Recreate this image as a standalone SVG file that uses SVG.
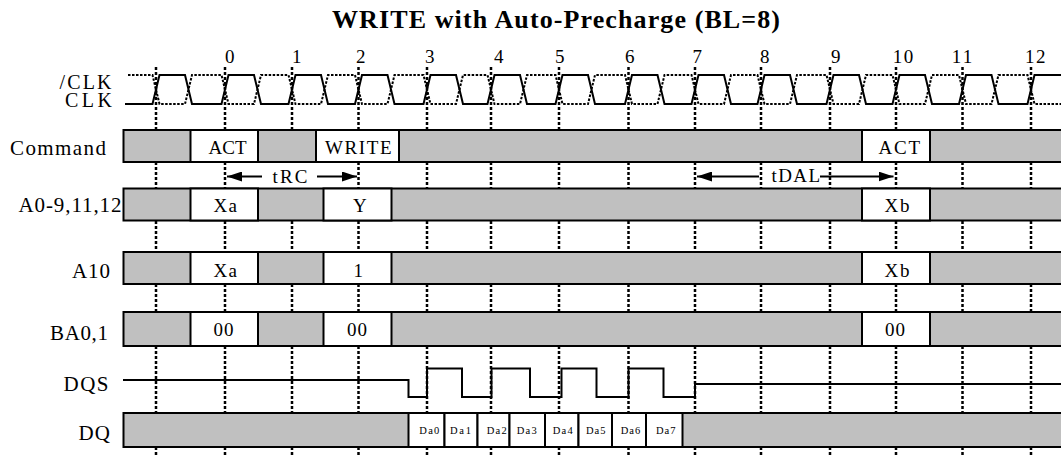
<svg xmlns="http://www.w3.org/2000/svg" width="1061" height="455" viewBox="0 0 1061 455">
<style>
text{font-family:"Liberation Serif","Times New Roman",serif;fill:#000}
.lbl{font-size:21px}
.ck{font-size:20px}
.box{font-size:19px}
.num{font-size:19px}
.da{font-size:10.5px}
.title{font-size:26px;font-weight:bold}
.gray{fill:#c0c0c0;stroke:#000;stroke-width:2}
.white{fill:#fff;stroke:#000;stroke-width:2}
.grid{fill:none;stroke:#000;stroke-width:2.5;stroke-dasharray:3 2}
.clk{fill:none;stroke:#000;stroke-width:2}
.nclk{fill:none;stroke:#000;stroke-width:2;stroke-dasharray:2.5 1.5}
.arr{fill:none;stroke:#000;stroke-width:2}
.wave{fill:none;stroke:#000;stroke-width:2}
</style>
<defs>
<marker id="ah" markerUnits="userSpaceOnUse" markerWidth="16" markerHeight="10" refX="15" refY="5" orient="auto">
<path d="M0,0 L15,5 L0,10 z" fill="#000"/>
</marker>
</defs>
<rect x="0" y="0" width="1061" height="455" fill="#fff"/>
<g id="title">
<text class="title" x="332" y="28" textLength="448" lengthAdjust="spacing">WRITE with Auto-Precharge (BL=8)</text>
</g>
<g id="cycle-numbers">
<text class="num" x="225" y="63">0</text>
<text class="num" x="292" y="63">1</text>
<text class="num" x="356" y="63">2</text>
<text class="num" x="425" y="63">3</text>
<text class="num" x="494" y="63">4</text>
<text class="num" x="555" y="63">5</text>
<text class="num" x="625" y="63">6</text>
<text class="num" x="692.5" y="63">7</text>
<text class="num" x="760" y="63">8</text>
<text class="num" x="831" y="63">9</text>
<text class="num" x="892.7" y="63" textLength="20.5" lengthAdjust="spacing">10</text>
<text class="num" x="951.7" y="63" textLength="20.5" lengthAdjust="spacing">11</text>
<text class="num" x="1025" y="63" textLength="20.5" lengthAdjust="spacing">12</text>
</g>
<g id="connectors">
<path class="grid" d="M156,67V130M225,67V130M292,67V130M358.5,67V130M427,67V130M491,67V130M559,67V130M628.5,67V130M695,67V130M761,67V130M830,67V130M896,67V130M962.5,67V130M1031,67V130"/>
<path class="grid" d="M156,162V188M225,162V188M358.5,162V188M427,162V188M491,162V188M559,162V188M628.5,162V188M695,162V188M761,162V188M830,162V188M896,162V188M962.5,162V188M1031,162V188"/>
<path class="grid" d="M156,221V252M225,221V252M292,221V252M358.5,221V252M427,221V252M491,221V252M559,221V252M628.5,221V252M695,221V252M761,221V252M830,221V252M896,221V252M962.5,221V252M1031,221V252"/>
<path class="grid" d="M156,284V312M225,284V312M292,284V312M358.5,284V312M427,284V312M491,284V312M559,284V312M628.5,284V312M695,284V312M761,284V312M830,284V312M896,284V312M962.5,284V312M1031,284V312"/>
<path class="grid" d="M156,346V413M225,346V413M292,346V413M358.5,346V413M427,346V413M491,346V413M559,346V413M628.5,346V413M695,346V413M761,346V413M830,346V413M896,346V413M962.5,346V413M1031,346V413"/>
<path class="grid" d="M156,447V455M225,447V455M292,447V455M358.5,447V455M427,447V455M491,447V455M559,447V455M628.5,447V455M695,447V455M761,447V455M830,447V455M896,447V455M962.5,447V455M1031,447V455"/>
<g id="tRC">
<line class="arr" x1="262" y1="176.5" x2="227" y2="176.5" marker-end="url(#ah)"/>
<line class="arr" x1="317" y1="176.5" x2="357" y2="176.5" marker-end="url(#ah)"/>
<text class="box" x="272.5" y="182.5" textLength="35" lengthAdjust="spacing">tRC</text>
</g>
<g id="tDAL">
<line class="arr" x1="759" y1="176.5" x2="697" y2="176.5" marker-end="url(#ah)"/>
<line class="arr" x1="820" y1="176.5" x2="893.5" y2="176.5" marker-end="url(#ah)"/>
<text class="box" x="771.5" y="182" textLength="48.5" lengthAdjust="spacing">tDAL</text>
</g>
</g>
<g id="clock">
<text class="ck" x="59.5" y="89" textLength="52" lengthAdjust="spacing">/CLK</text>
<text class="ck" x="65" y="107" textLength="47" lengthAdjust="spacing">CLK</text>
<path class="nclk" d="M128,75 L152.5,75 L159.5,104 L185,104 L192,75 L221.5,75 L228.5,104 L254,104 L261,75 L288.5,75 L295.5,104 L321,104 L328,75 L355,75 L362,104 L387.5,104 L394.5,75 L423.5,75 L430.5,104 L456,104 L463,75 L487.5,75 L494.5,104 L520,104 L527,75 L555.5,75 L562.5,104 L588,104 L595,75 L625,75 L632,104 L657.5,104 L664.5,75 L691.5,75 L698.5,104 L724,104 L731,75 L757.5,75 L764.5,104 L790,104 L797,75 L826.5,75 L833.5,104 L859,104 L866,75 L892.5,75 L899.5,104 L925,104 L932,75 L959,75 L966,104 L991.5,104 L998.5,75 L1027.5,75 L1034.5,104 L1061,104"/>
<path class="clk" d="M125,104 L152.5,104 L159.5,75 L185,75 L192,104 L221.5,104 L228.5,75 L254,75 L261,104 L288.5,104 L295.5,75 L321,75 L328,104 L355,104 L362,75 L387.5,75 L394.5,104 L423.5,104 L430.5,75 L456,75 L463,104 L487.5,104 L494.5,75 L520,75 L527,104 L555.5,104 L562.5,75 L588,75 L595,104 L625,104 L632,75 L657.5,75 L664.5,104 L691.5,104 L698.5,75 L724,75 L731,104 L757.5,104 L764.5,75 L790,75 L797,104 L826.5,104 L833.5,75 L859,75 L866,104 L892.5,104 L899.5,75 L925,75 L932,104 L959,104 L966,75 L991.5,75 L998.5,104 L1027.5,104 L1034.5,75 L1061,75"/>
</g>
<g id="row-command">
<text class="lbl" x="10" y="155" textLength="96" lengthAdjust="spacing">Command</text>
<rect class="gray" x="123.5" y="130" width="950" height="32"/>
<rect class="white" x="190.5" y="130" width="67.5" height="32"/>
<rect class="white" x="316" y="130" width="83" height="32"/>
<rect class="white" x="862" y="130" width="68" height="32"/>
<text class="box" x="208.5" y="153.5" textLength="38" lengthAdjust="spacing">ACT</text>
<text class="box" x="325" y="153.5" textLength="66.5" lengthAdjust="spacing">WRITE</text>
<text class="box" x="878.5" y="153.5" textLength="41.5" lengthAdjust="spacing">ACT</text>
</g>
<g id="row-a0-9">
<text class="lbl" x="18.5" y="212" textLength="103" lengthAdjust="spacing">A0-9,11,12</text>
<rect class="gray" x="123.5" y="188.5" width="950" height="32"/>
<rect class="white" x="190.5" y="188.5" width="67.5" height="32"/>
<rect class="white" x="323.5" y="188.5" width="68" height="32"/>
<rect class="white" x="862" y="188.5" width="68" height="32"/>
<text class="box" x="213.5" y="212" textLength="23.5" lengthAdjust="spacing">Xa</text>
<text class="box" x="353" y="212">Y</text>
<text class="box" x="884.5" y="212" textLength="25" lengthAdjust="spacing">Xb</text>
</g>
<g id="row-a10">
<text class="lbl" x="72" y="277.5" textLength="38" lengthAdjust="spacing">A10</text>
<rect class="gray" x="123.5" y="252" width="950" height="32"/>
<rect class="white" x="190.5" y="252" width="67.5" height="32"/>
<rect class="white" x="323.5" y="252" width="68" height="32"/>
<rect class="white" x="862" y="252" width="68" height="32"/>
<text class="box" x="213.5" y="277" textLength="23.5" lengthAdjust="spacing">Xa</text>
<text class="box" x="353.5" y="277">1</text>
<text class="box" x="884.5" y="276.5" textLength="25" lengthAdjust="spacing">Xb</text>
</g>
<g id="row-ba">
<text class="lbl" x="50" y="339.5" textLength="58" lengthAdjust="spacing">BA0,1</text>
<rect class="gray" x="123.5" y="312" width="950" height="34"/>
<rect class="white" x="190.5" y="312" width="67.5" height="34"/>
<rect class="white" x="323.5" y="312" width="68" height="34"/>
<rect class="white" x="862" y="312" width="68" height="34"/>
<text class="box" x="213.5" y="336" textLength="20" lengthAdjust="spacing">00</text>
<text class="box" x="347" y="336" textLength="20" lengthAdjust="spacing">00</text>
<text class="box" x="885" y="336" textLength="20" lengthAdjust="spacing">00</text>
</g>
<g id="row-dqs">
<text class="lbl" x="63.5" y="391" textLength="45" lengthAdjust="spacing">DQS</text>
<path class="wave" d="M123,380 H408.5 V397 H427 V368.5 H462 V397 H491.5 V368.5 H530 V397 H561.5 V368.5 H596.5 V397 H628.5 V368.5 H663.5 V397 H695 V384 H1061"/>
</g>
<g id="row-dq">
<text class="lbl" x="78.5" y="440" textLength="31.5" lengthAdjust="spacing">DQ</text>
<rect class="gray" x="123.5" y="413" width="950" height="34"/>
<rect class="white" x="408.5" y="413" width="36" height="34"/>
<rect class="white" x="444.5" y="413" width="33" height="34"/>
<rect class="white" x="477.5" y="413" width="32" height="34"/>
<rect class="white" x="509.5" y="413" width="35.5" height="34"/>
<rect class="white" x="545" y="413" width="33.5" height="34"/>
<rect class="white" x="578.5" y="413" width="33.5" height="34"/>
<rect class="white" x="612" y="413" width="34" height="34"/>
<rect class="white" x="646" y="413" width="36.5" height="34"/>
<text class="da" x="419.3" y="434" textLength="20" lengthAdjust="spacing">Da0</text>
<text class="da" x="450" y="434" textLength="21" lengthAdjust="spacing">Da1</text>
<text class="da" x="486.7" y="434" textLength="20" lengthAdjust="spacing">Da2</text>
<text class="da" x="516.7" y="434" textLength="20" lengthAdjust="spacing">Da3</text>
<text class="da" x="552.7" y="434" textLength="20" lengthAdjust="spacing">Da4</text>
<text class="da" x="586" y="434" textLength="19.5" lengthAdjust="spacing">Da5</text>
<text class="da" x="620.7" y="434" textLength="19.5" lengthAdjust="spacing">Da6</text>
<text class="da" x="656" y="434" textLength="19.5" lengthAdjust="spacing">Da7</text>
</g>
</svg>
